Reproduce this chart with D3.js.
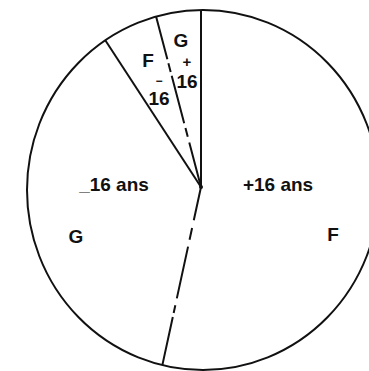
<!DOCTYPE html>
<html>
<head>
<meta charset="utf-8">
<script src="https://cdn.jsdelivr.net/npm/d3@7"></script>
<style>
  body { margin: 0; background: #fff; }
  text { font-family: "Liberation Sans", Arial, sans-serif; font-weight: bold; fill: #111; }
</style>
</head>
<body>
<div id="chart"></div>
<script>
// slices, clockwise from 12 o'clock
const slices = ["F +16", "G -16", "F -16", "G +16"];
const sexes = ["F", "G", "F", "G"];
const ages = ["+16", "-16", "-16", "+16"];
const shares = [53.4, 37.4, 5.1, 4.1];

// text labels drawn inside the pie (one entry per text block, lines inside)
const labelTexts = [["+16 ans"], ["F"], ["_16 ans"], ["G"], ["F"], ["\u2212", "16"], ["G"], ["+", "16"]];

const width = 369, height = 371;
const hub = [201, 187];                 // where the radii meet
const rim = { cx: 203, cy: 190, rx: 176, ry: 180 }; // the scanned outline is a bit oval

// label offsets from hub (x centre, first baseline) and line steps
const labelPos = [[77, 4], [132, 54], [-87, 4], [-125, 56], [-53, -120], [-42, -102.5], [-20, -140], [-14, -120]];
const lineStep = [0, 0, 0, 0, 0, 20.5, 0, 21];

const svg = d3.select("#chart").append("svg")
  .attr("width", width)
  .attr("height", height);

svg.append("rect").attr("width", width).attr("height", height).attr("fill", "#fff");

const pie = d3.pie().sort(null).value(d => d)(shares);

// point where a ray from the hub meets the outline
function rimPoint(a) {
  const ux = Math.sin(a), uy = -Math.cos(a);
  const dx = hub[0] - rim.cx, dy = hub[1] - rim.cy;
  const A = (ux / rim.rx) ** 2 + (uy / rim.ry) ** 2;
  const B = 2 * (dx * ux / rim.rx ** 2 + dy * uy / rim.ry ** 2);
  const C = (dx / rim.rx) ** 2 + (dy / rim.ry) ** 2 - 1;
  const t = (-B + Math.sqrt(B * B - 4 * A * C)) / (2 * A);
  return [hub[0] + t * ux, hub[1] + t * uy];
}

svg.append("ellipse")
  .attr("cx", rim.cx).attr("cy", rim.cy)
  .attr("rx", rim.rx).attr("ry", rim.ry)
  .attr("fill", "none")
  .attr("stroke", "#111")
  .attr("stroke-width", 2);

// boundaries: solid between sexes, broken between age groups
const dashes = ["34,8,12,7,53,7,8,4,80", "46,6,9,5,49,4,9,4,80"];
const bounds = pie.map((p, i) => {
  const prev = (i + pie.length - 1) % pie.length;
  return { angle: p.startAngle, ageChange: ages[i] !== ages[prev] };
});
let k = 0;
bounds.forEach(b => { b.dash = b.ageChange ? dashes[k++] : null; });

svg.selectAll("line.radius")
  .data(bounds)
  .join("line")
  .attr("class", "radius")
  .attr("x1", hub[0]).attr("y1", hub[1])
  .attr("x2", d => rimPoint(d.angle)[0])
  .attr("y2", d => rimPoint(d.angle)[1])
  .attr("stroke", "#111")
  .attr("stroke-width", 2)
  .attr("stroke-dasharray", d => d.dash);

svg.append("circle").attr("cx", hub[0]).attr("cy", hub[1]).attr("r", 2).attr("fill", "#111");

const labels = svg.selectAll("text.lab")
  .data(labelTexts)
  .join("text")
  .attr("class", "lab")
  .attr("x", (d, i) => hub[0] + labelPos[i][0])
  .attr("y", (d, i) => hub[1] + labelPos[i][1])
  .attr("text-anchor", "middle")
  .attr("font-size", 19);

labels.each(function (lines, i) {
  d3.select(this).selectAll("tspan")
    .data(lines)
    .join("tspan")
    .attr("x", hub[0] + labelPos[i][0])
    .attr("dy", (d, j) => (j === 0 ? 0 : lineStep[i]))
    .attr("font-size", d => (d === "+" ? 15 : d === "\u2212" ? 12 : 19))
    .text(d => d);
});
</script>
</body>
</html>
